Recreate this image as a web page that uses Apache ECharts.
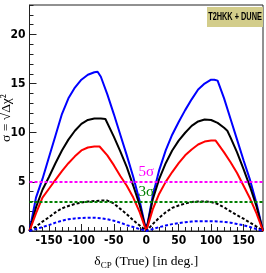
<!DOCTYPE html>
<html>
<head>
<meta charset="utf-8">
<script src="https://cdn.jsdelivr.net/npm/echarts@6/dist/echarts.min.js"></script>
<style>
html,body{margin:0;padding:0;background:#fff;}
#chart{width:266px;height:273px;}
</style>
</head>
<body>
<div id="chart"></div>
<script>
// ---- data ----
const xMajorTicks = [-150, -100, -50, 0, 50, 100, 150];
const yMajorTicks = [0, 5, 10, 15, 20];
const xMinorTicks = [-170,-160,-150,-140,-130,-120,-110,-100,-90,-80,-70,-60,-50,-40,-30,-20,-10,0,10,20,30,40,50,60,70,80,90,100,110,120,130,140,150,160,170];
const yMinorTicks = [1,2,3,4,5,6,7,8,9,10,11,12,13,14,15,16,17,18,19,20,21,22,23];

const blueSolidX = [-180,-170,-160,-150,-140,-130,-120,-110,-100,-90,-80,-75,-70,-60,-50,-40,-30,-20,-10,0,10,20,30,40,50,60,70,80,90,100,105,110,120,130,140,150,160,170,180];
const blueSolidY = [0,3.4,5.3,7.5,9.7,11.9,13.5,14.6,15.4,15.9,16.15,16.2,15.7,13.9,11.9,9.8,7.7,5.5,3.0,0,3.6,6.2,8.2,9.8,11.1,12.3,13.4,14.4,15.0,15.4,15.4,15.3,13.5,11.4,9.3,7.2,5.2,2.8,0];

const blackSolidX = [-180,-170,-160,-150,-140,-130,-120,-110,-100,-90,-80,-70,-63,-50,-40,-30,-20,-10,0,10,20,30,40,50,60,70,80,90,100,110,120,125,130,140,150,160,170,180];
const blackSolidY = [0,2.4,4.2,5.5,6.9,8.2,9.3,10.2,10.9,11.3,11.45,11.45,11.4,9.6,8.1,6.5,4.6,2.6,0,3.2,5.3,6.9,8.2,9.2,10.0,10.7,11.15,11.35,11.3,11.0,10.5,10.2,9.5,8.0,6.3,4.5,2.5,0];

const redSolidX = [-180,-170,-160,-150,-140,-130,-120,-110,-100,-90,-80,-72,-60,-50,-40,-30,-20,-10,0,10,20,30,40,50,60,70,80,90,100,107,120,130,140,150,160,170,180];
const redSolidY = [0,1.8,3.4,4.3,5.2,6.1,6.9,7.6,8.2,8.5,8.6,8.6,7.7,6.7,5.6,4.6,3.4,1.9,0,2.2,3.8,5.0,6.0,6.9,7.7,8.3,8.8,9.1,9.2,9.2,8.0,7.0,5.9,4.6,3.3,1.8,0];

const dashedX = [-180,-170,-160,-150,-140,-130,-120,-110,-100,-90,-80,-70,-60,-50,-40,-30,-20,-10,0,10,20,30,40,50,60,70,80,90,100,110,120,130,140,150,160,170,180];
const blackDashedY = [0,0.45,0.95,1.4,1.9,2.3,2.55,2.75,2.9,3.0,3.05,3.1,3.1,2.8,2.25,1.7,1.1,0.55,0,0.7,1.35,1.9,2.35,2.6,2.8,2.95,3.0,3.0,2.95,2.75,2.4,2.0,1.6,1.25,0.85,0.45,0];
const blueDottedY = [0,0.2,0.4,0.6,0.85,1.05,1.2,1.28,1.33,1.35,1.35,1.3,1.2,1.05,0.85,0.6,0.4,0.2,0,0.2,0.4,0.55,0.7,0.8,0.9,0.97,1.0,1.0,1.0,0.97,0.92,0.85,0.72,0.58,0.4,0.2,0];

const sigmaLevels = [5, 3];
const sigmaLabels = ['5σ', '3σ'];
const legendText = 'T2HKK + DUNE';

// ---- chart ----
const pairs = (xs, ys) => xs.map((x, i) => [x, ys[i]]);
const tickFont = "'Liberation Sans Narrow','DejaVu Sans Condensed','Liberation Sans',sans-serif";
const serif = "'Liberation Serif','DejaVu Serif',serif";

const chart = echarts.init(document.getElementById('chart'), null, {renderer: 'canvas'});

function lineSeries(data, color, type) {
  return {
    type: 'line', data: data, xAxisIndex: 0, yAxisIndex: 0,
    showSymbol: false, symbol: 'none', smooth: false, silent: true,
    lineStyle: {color: color, width: 2, type: type}
  };
}

function sigmaSeries(level, label, color) {
  return {
    type: 'line', data: [], xAxisIndex: 0, yAxisIndex: 0, silent: true,
    markLine: {
      silent: true, symbol: 'none', animation: false,
      data: [{yAxis: level}],
      lineStyle: {color: color, width: 2, type: [3, 2]},
      label: {show: true, formatter: label, position: 'insideMiddleTop', distance: 2,
              color: color, fontSize: 15, fontFamily: serif}
    }
  };
}

const option = {
  animation: false,
  backgroundColor: '#ffffff',
  graphic: [{
    type: 'group', right: 3, top: 7,
    children: [
      {type: 'rect', shape: {x: 0, y: 0, width: 56, height: 20}, style: {fill: '#d3cd8b'}},
      {type: 'text', x: 28, y: 10.5, scaleX: 0.7,
       style: {text: legendText, font: "bold 10.5px 'Liberation Sans', sans-serif", fill: '#000', align: 'center', verticalAlign: 'middle'}}
    ]
  }],
  grid: {left: 29.5, right: 3, top: 5, bottom: 42, outerBoundsMode: 'none', containLabel: false,
         show: true, borderColor: '#222', borderWidth: 1, backgroundColor: 'transparent'},
  xAxis: [{
    type: 'value', min: -180, max: 180, position: 'bottom',
    name: '{a|δ}{s|CP}{a| (True) [in deg.]}', nameLocation: 'middle', nameGap: 21, nameMoveOverlap: false,
    nameTextStyle: {rich: {
      a: {fontFamily: serif, fontSize: 13.5, color: '#000'},
      s: {fontFamily: serif, fontSize: 9, color: '#000', verticalAlign: 'bottom', padding: [9, 0, 0, 0]}
    }},
    axisLine: {show: true, onZero: false, lineStyle: {color: '#222', width: 1}},
    axisTick: {show: true, inside: true, length: 7, customValues: xMajorTicks, lineStyle: {color: '#222'}},
    axisLabel: {show: true, customValues: xMajorTicks, hideOverlap: false, fontSize: 12, fontWeight: 'bold', color: '#000', fontFamily: tickFont, margin: 4},
    splitLine: {show: false}
  }, {
    type: 'value', min: -180, max: 180, position: 'bottom',
    axisLine: {show: false, onZero: false},
    axisTick: {show: true, inside: true, length: 4, customValues: xMinorTicks, lineStyle: {color: '#222'}},
    axisLabel: {show: false},
    splitLine: {show: false}
  }],
  yAxis: [{
    type: 'value', min: 0, max: 23, position: 'left',
    name: 'σ = √Δχ²', nameLocation: 'middle', nameGap: 16, nameRotate: 90, nameMoveOverlap: false,
    nameTextStyle: {fontFamily: serif, fontSize: 13.5, color: '#000'},
    axisLine: {show: true, onZero: false, lineStyle: {color: '#222', width: 1}},
    axisTick: {show: true, inside: true, length: 7, customValues: yMajorTicks, lineStyle: {color: '#222'}},
    axisLabel: {show: true, customValues: yMajorTicks, fontSize: 12, fontWeight: 'bold', color: '#000', fontFamily: tickFont, margin: 4},
    splitLine: {show: false}
  }, {
    type: 'value', min: 0, max: 23, position: 'left',
    axisLine: {show: false, onZero: false},
    axisTick: {show: true, inside: true, length: 4, customValues: yMinorTicks, lineStyle: {color: '#222'}},
    axisLabel: {show: false},
    splitLine: {show: false}
  }],
  series: [
    sigmaSeries(sigmaLevels[0], sigmaLabels[0], '#ff00ff'),
    sigmaSeries(sigmaLevels[1], sigmaLabels[1], '#008000'),
    lineSeries(pairs(blueSolidX, blueSolidY), '#0000ff', 'solid'),
    lineSeries(pairs(blackSolidX, blackSolidY), '#000000', 'solid'),
    lineSeries(pairs(redSolidX, redSolidY), '#ff0000', 'solid'),
    lineSeries(pairs(dashedX, blackDashedY), '#000000', [3, 2]),
    lineSeries(pairs(dashedX, blueDottedY), '#0000ff', [3, 2])
  ]
};
chart.setOption(option);
</script>
</body>
</html>
